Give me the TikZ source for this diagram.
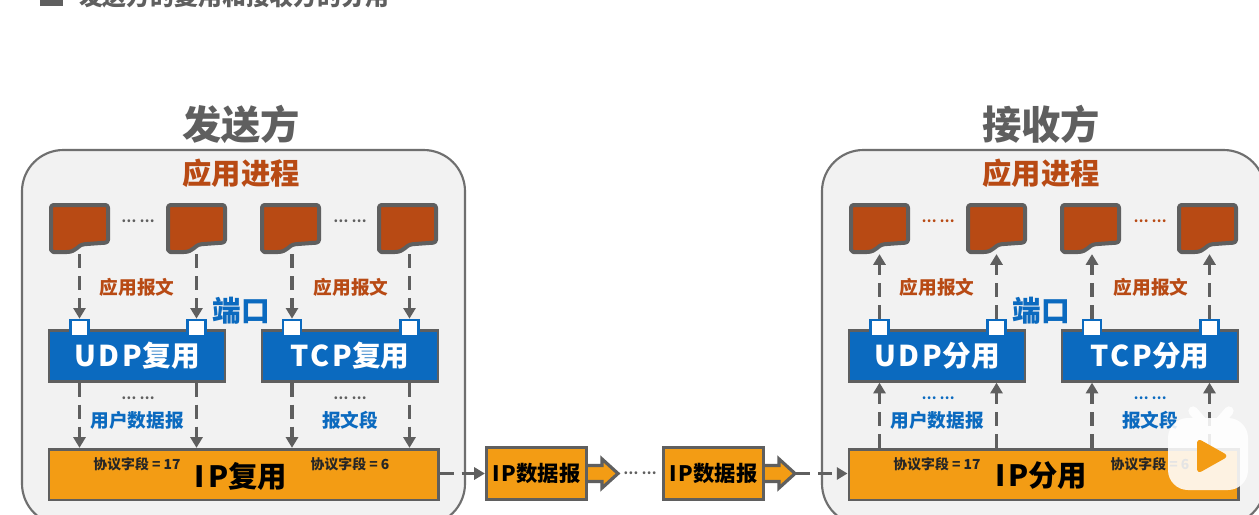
\documentclass[tikz,border=0pt]{standalone}
\usepackage{fontspec}
\setmainfont{Noto Sans CJK SC}
\usetikzlibrary{arrows.meta}
\definecolor{linegray}{HTML}{5F5F5F}
\definecolor{panelfill}{HTML}{F2F2F2}
\definecolor{rust}{HTML}{B84A14}
\definecolor{portblue}{HTML}{0B6ABF}
\definecolor{amber}{HTML}{F39C14}
\tikzset{
  x=0.75pt, y=-0.75pt,
  txt/.style={inner sep=0pt, outer sep=0pt, font=\bfseries},
  panel/.style={draw=linegray!90, line width=1.6pt, fill=panelfill, rounded corners=31pt},
  docbox/.style={inner sep=0pt, minimum width=46pt, minimum height=38pt},
  docshape/.style={draw=linegray, fill=rust, line width=3pt, line join=round, rounded corners=2pt},
  portbox/.style={draw=portblue, fill=white, line width=2pt, inner sep=0pt, minimum width=13.5pt, minimum height=12pt},
  muxbox/.style={draw=linegray, fill=portblue, line width=2pt, inner sep=0pt, minimum width=132pt, minimum height=38pt, text=white, font=\bfseries\fontsize{21.5}{22}\selectfont},
  ipbox/.style={draw=linegray, fill=amber, line width=2pt, inner sep=0pt, minimum width=292pt, minimum height=38pt},
  dgbox/.style={draw=linegray, fill=amber, line width=2.4pt, inner sep=0pt, minimum width=75pt, minimum height=39pt, font=\bfseries\fontsize{16}{16}\selectfont},
  blockarrow/.style={draw=linegray, fill=amber, line width=2.4pt, line join=miter},
  flow/.style={draw=linegray, line width=2.3pt, dash pattern=on 10.5pt off 6pt,
    -{Triangle[length=8pt,width=9pt,fill=linegray]}},
  rustlabel/.style={txt, text=rust, font=\bfseries\fontsize{14}{14}\selectfont},
  bluelabel/.style={txt, text=portblue, font=\bfseries\fontsize{14}{14}\selectfont},
  fieldlabel/.style={txt, text=black!85, font=\bfseries\fontsize{10.4}{11}\selectfont},
  dots/.style={txt, font=\bfseries\fontsize{10}{10}\selectfont},
  titlelabel/.style={txt, text=linegray, font=\bfseries\fontsize{29.5}{30}\selectfont},
  proclabel/.style={txt, text=rust, font=\bfseries\fontsize{22}{22}\selectfont},
  portlabel/.style={txt, text=portblue, font=\bfseries\fontsize{21.5}{22}\selectfont},
}
% spaced Latin letters inside the boxes
\newcommand{\wide}[1]{{\addfontfeature{LetterSpace=10}#1}}
% application message sheet with a curled lower edge; #1 name, #2 left edge
\newcommand{\sheet}[2]{%
  \node[docbox] (#1) at (#2+30.5,228.5) {};
  \draw[docshape] (#2+2,205) -- (#2+59,205) -- (#2+59,242.5)
    -- (#2+38,244) .. controls (#2+28,245) and (#2+28,252) .. (#2+15,252)
    -- (#2+7,252) .. controls (#2+4,252) and (#2+2,250) .. (#2+2,247) -- cycle;
}
% shared content of one host; #1 prefix, #2 horizontal offset, #3 title,
% #4 verb, #5 colour of the upper dots, #6 colour of the lower dots
\newcommand{\hostparts}[6]{%
  \draw[panel] (#2+22,150) rectangle (#2+465,525);
  \node[titlelabel] (#1title) at (#2+241,124) {#3};
  \node[proclabel] (#1proc) at (#2+241,173) {应用进程};
  \sheet{#1d1}{#2+49}
  \sheet{#1d2}{#2+166}
  \sheet{#1d3}{#2+260}
  \sheet{#1d4}{#2+377}
  \node[dots, text=#5] (#1dotsa) at (#2+138,221) {… …};
  \node[dots, text=#5] (#1dotsb) at (#2+350,221) {… …};
  \node[muxbox] (#1udp) at (#2+137,356) {\wide{UDP}#4用};
  \node[muxbox] (#1tcp) at (#2+350,356) {\wide{TCP}#4用};
  \node[portbox] (#1p1) at (#2+79.5,328) {};
  \node[portbox] (#1p2) at (#2+196.5,328) {};
  \node[portbox] (#1p3) at (#2+292,328) {};
  \node[portbox] (#1p4) at (#2+409.5,328) {};
  \node[rustlabel] (#1msga) at (#2+137,287) {应用报文};
  \node[rustlabel] (#1msgb) at (#2+351,287) {应用报文};
  \node[portlabel] (#1port) at (#2+241.5,311) {端口};
  \node[dots, text=#6] (#1dotsc) at (#2+138,398) {… …};
  \node[dots, text=#6] (#1dotsd) at (#2+350,398) {… …};
  \node[bluelabel] (#1udg) at (#2+137,420) {用户数据报};
  \node[bluelabel] (#1seg) at (#2+350,420) {报文段};
  \node[ipbox] (#1ip) at (#2+243.5,474.5) {};
  \node[txt, font=\bfseries\fontsize{22}{22}\selectfont] (#1iptext) at (#2+241,476) {\wide{IP}#4用};
  \node[fieldlabel] (#1fa) at (#2+137,464) {协议字段 = 17};
  \node[fieldlabel] (#1fb) at (#2+350,464) {协议字段 = 6};
}
% IP datagram with its block arrow; #1 name, #2 left edge
\newcommand{\datagram}[2]{%
  \draw[blockarrow] (#2+100,465.5) -- (#2+116,465.5) -- (#2+116,459) -- (#2+132,473.5)
    -- (#2+116,488) -- (#2+116,481.5) -- (#2+100,481.5) -- cycle;
  \node[dgbox] (#1) at (#2+50.5,473.5) {\wide{IP}数据报};
}
\begin{document}
\begin{tikzpicture}
\useasboundingbox (0,0) rectangle (1259,514);
\clip (0,0) rectangle (1259,514);
\fill[white] (0,0) rectangle (1259,514);

% section heading, cut by the top edge
\fill[linegray] (40,-10) rectangle (63,6);
\node[txt, anchor=west, text=linegray, font=\bfseries\fontsize{17.9}{18}\selectfont] (head) at (79,-4) {发送方的复用和接收方的分用};

\hostparts{s}{0}{发送方}{复}{linegray}{linegray}
\hostparts{r}{800}{接收方}{分}{rust}{portblue}

% sender: messages go down through the ports to IP
\foreach \i/\grp in {1/udp,2/udp,3/tcp,4/tcp}{
  \draw[flow] (sd\i.south -| sp\i) -- (sp\i.north);
  \draw[flow] (s\grp.south -| sp\i) -- (sip.north -| sp\i);
}
% receiver: messages go up from IP through the ports
\foreach \i/\grp in {1/udp,2/udp,3/tcp,4/tcp}{
  \draw[flow] (rp\i.north) -- (rd\i.south -| rp\i);
  \draw[flow] (rip.north -| rp\i) -- (r\grp.south -| rp\i);
}

% datagrams travelling between the two hosts
\datagram{dga}{486}
\datagram{dgb}{663}
\node[dots, text=linegray] (between) at (640,473.5) {… …};
\coordinate (dgbtip) at (796,473.5);
\draw[flow] (sip.east |- dga.west) -- (dga.west);
\draw[flow] (dgbtip) -- (rip.west |- dgbtip);

% video site badge in the corner
\begin{scope}[transparency group, opacity=0.88]
  \draw[white, line width=7pt, line cap=round] (1193,411) -- (1206,426);
  \draw[white, line width=7pt, line cap=round] (1229,411) -- (1216,426);
  \fill[white, rounded corners=15pt] (1168,418) rectangle (1248,490);
\end{scope}
\fill[amber, rounded corners=4pt] (1197,438) -- (1229,456) -- (1197,474) -- cycle;
\end{tikzpicture}
\end{document}
